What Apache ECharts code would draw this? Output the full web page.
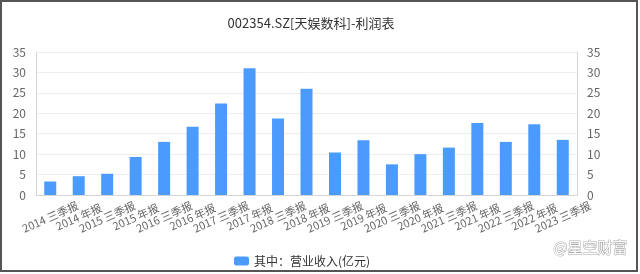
<!DOCTYPE html>
<html>
<head>
<meta charset="utf-8">
<script src="https://cdn.jsdelivr.net/npm/echarts@6/dist/echarts.min.js"></script>
<style>
html,body{margin:0;padding:0;background:#fff;}
#wrap{position:relative;width:640px;height:274px;}
#chart{position:absolute;left:0;top:0;width:640px;height:274px;}
#frame{position:absolute;left:0;top:0;width:634px;height:268px;border:2px solid #555;pointer-events:none;}
</style>
</head>
<body>
<div id="wrap"><div id="chart"></div><div id="frame"></div></div>
<script>
const titleText = '002354.SZ[天娱数科]-利润表';
const seriesName = '其中：营业收入(亿元)';
const categories = ['2014 三季报','2014 年报','2015 三季报','2015 年报','2016 三季报','2016 年报','2017 三季报','2017 年报','2018 三季报','2018 年报','2019 三季报','2019 年报','2020 三季报','2020 年报','2021 三季报','2021 年报','2022 三季报','2022 年报','2023 三季报'];
const revenue = [3.3, 4.6, 5.2, 9.3, 13.0, 16.7, 22.4, 31.0, 18.7, 26.0, 10.4, 13.4, 7.5, 10.0, 11.6, 17.6, 13.0, 17.3, 13.5];
const yMin = 0, yMax = 35, yStep = 5;
const watermark = '@星空财富';

const FONT = '"Noto Sans CJK SC", "Noto Sans", sans-serif';
const chart = echarts.init(document.getElementById('chart'), null, {renderer: 'canvas'});
const yAxisCommon = {
  type: 'value', min: yMin, max: yMax, interval: yStep,
  axisLine: {show: true, lineStyle: {color: '#d6d6d6'}},
  axisTick: {show: false},
  axisLabel: {color: '#666', fontSize: 12, fontFamily: FONT, margin: 10},
  splitLine: {show: true, lineStyle: {color: '#eeeeee'}}
};
chart.setOption({
  animation: false,
  title: {text: titleText, left: 306, top: 12, textAlign: 'center',
    textStyle: {fontSize: 13, fontWeight: 'normal', color: '#333', fontFamily: FONT}},
  grid: {left: 36, right: 63, top: 52, bottom: 79, containLabel: false},
  legend: {left: 229, top: 250, itemWidth: 15, itemHeight: 9, itemGap: 6,
    textStyle: {fontSize: 12, color: '#333', fontFamily: FONT},
    data: [seriesName]},
  xAxis: {type: 'category', data: categories,
    axisLine: {lineStyle: {color: '#d6d6d6'}},
    axisTick: {show: false},
    axisLabel: {interval: 0, rotate: 24, align: 'center', verticalAlign: 'middle', margin: 22,
      color: '#666', fontSize: 11, fontFamily: FONT}},
  yAxis: [Object.assign({position: 'left'}, yAxisCommon),
          Object.assign({position: 'right'}, yAxisCommon, {splitLine: {show: false}})],
  series: [{name: seriesName, type: 'bar', data: revenue, barWidth: 12,
    itemStyle: {color: '#4b9bff'}}],
  graphic: [{type: 'text', right: 12, top: 239,
    style: {text: watermark, fontSize: 15, fontFamily: FONT, fill: '#fff', stroke: '#aaa', lineWidth: 1}}]
});
</script>
</body>
</html>
